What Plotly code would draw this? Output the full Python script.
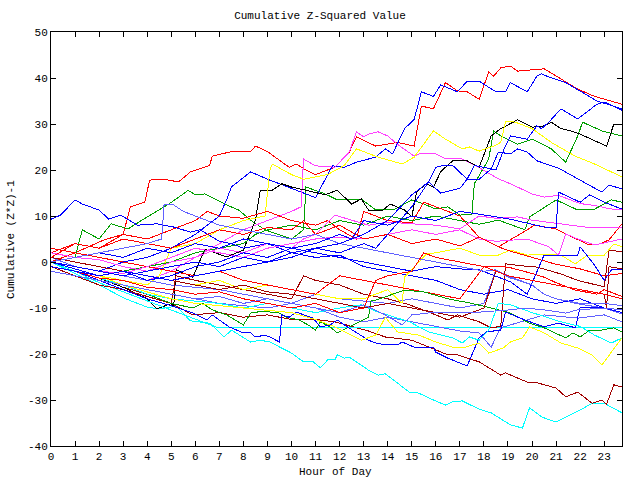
import plotly.graph_objects as go

# ---------------- data (hour, cumulative value) ----------------
red_top_h = [0,1,2.2,3,3.3,3.9,4.1,4.7,5.3,5.8,6.6,6.7,7.5,8.3,8.5,9,9.9,10.2,10.6,11,11.8,12.4,12.7,13.5,14.4,15.1,15.4,15.9,16.4,16.9,17.3,17.8,18.2,18.4,18.7,19.1,19.4,20.5,21.2,21.9,22.6,23.74]
red_top_v = [0,2,4.8,6,12,13,17.8,18,17.4,19.6,21,23,24,24,25.2,24,20.6,21.3,20,19,20.6,23.9,27.2,25.2,26,25.2,33.9,33.3,39,37.2,37,35.4,41.3,40.4,42.2,42.6,41.5,42,39.8,37.6,36,34.3]

blue_top_h = [0,1,2,3,4,5,6,7,7.3,7.5,8.3,9,9.5,10,10.5,11,11.3,11.7,12.2,12.7,13.5,13.9,14.2,14.7,15.1,15.4,15.9,16.2,16.9,17.3,17.8,18.5,18.9,19.1,19.8,20.2,20.4,20.7,21.4,22.2,22.7,23.74]
blue_top_v = [0,-1,-2,0,1,3,6,10,13.5,16.3,19.6,18,17,16,15,14,17,20.9,20.6,21.7,22.8,24.6,23.5,29,31,37,36,38.5,37,39.3,39.3,37,37,39,37,40.4,40.9,40.2,39,36.5,35,33.3]

blue_ten_h = [0,0.4,1,1.3,2,2.4,2.9,3.6,4.4,5.1,5.8,6.2,7,7.5,8,9,10,11,12,13,14,15,16,17,18,19,20,21,22,23,23.74]
blue_ten_v = [9.3,10.2,13.5,12.6,11.3,9.3,10.2,8,8.3,7.6,6.5,7,4.5,4,3,4,2,1,1.5,-1,-2,-3,-4,-6,-7,-6,-8,-9,-8,-10,-11]

green_a_h = [0,1,1.3,2,2.5,3.2,4,4.5,4.9,5.5,5.7,6,6.4,7.3,7.8,8.4,8.9,10,10.5,10.6,11.4,11.9,12.9,13.5,14.3,15,15.5,16,16.5,17,17.5,17.6,18.2,18.4,18.7,19.4,20,20.8,21.4,21.9,22.1,22.9,23.74]
green_a_v = [0,1,7,5,8.3,7.2,9.8,11.3,12.6,14.8,15.6,14.6,14.8,12.4,11.3,8.7,7,5,7,16.3,14.8,13.5,13.7,11.3,11.5,13.5,12.6,11.5,12,10.2,10.4,17,22.4,28.5,27.4,25.6,26.7,24.6,21.7,27.4,30.4,28.5,27.4]

black_a_h = [0,1,2,3,4,4.4,5,5.1,5.2,5.9,6.4,7.3,8,8.5,8.7,9.2,9.6,10,10.6,11.4,11.9,12.5,12.9,13.2,13.8,14.1,14.7,15,15.2,15.6,15.9,16.2,16.4,16.7,17.3,17.8,18.3,18.7,19.4,20,20.5,20.8,21.2,21.6,22,23.1,23.4,23.74]
black_a_v = [0,-2,-3.5,-5.5,-8,-10.2,-9,-9.8,-1.7,-3.3,2.8,1.1,2.6,9.1,15.6,15.6,17,16.3,15.6,14.6,15.6,12.6,13.7,11.3,11.3,12.6,11.3,9.8,15.2,17,16.3,19.6,20.6,22,22,20.6,27.4,29,30.9,29.3,29.6,30.4,29,28.5,27.8,25.2,30,30]

yellow_a_h = [0,1,2,3,4,4.5,5,6,7,8,8.9,9.1,9.2,10,10.5,11.5,12.2,12.7,13.6,14.6,15.1,15.9,16.4,17.1,17.4,17.8,18.4,18.7,18.9,19.3,20,20.8,21.8,22.6,23.74]
yellow_a_v = [0,-1.5,-3,-4,-5,-3,3,4,7,9,10,20,21.3,19,18,19,21,24.6,22.8,21.3,22.8,28.5,26.7,24.6,25,24.1,25.2,26,30.6,30.4,29,26,23,21.3,18.5]

magenta_a_h = [0,1,2,3,4,5,6,7,8,9,10,10.4,10.5,11,11.8,12.4,12.7,13,13.2,13.6,14,14.4,15.1,15.3,16,16.4,17.1,17.8,18.6,19.1,20,20.5,21.1,22,22.6,23.2,23.74]
magenta_a_v = [0,-1,-2,-3,-4,-2,1,4,7,9,11,12,22.4,20.9,20.6,23.9,28.3,27.2,27.8,28.3,27.4,25.6,23,23.5,23.5,22.4,22.4,20.5,18.1,17,14.8,14.1,14.5,12.7,12.3,11.6,11.3]

cyan_low_h = [0,1,2,3.1,4,4.5,5.2,5.8,6.2,6.6,7.2,7.5,8.3,8.7,9.1,10,10.5,10.9,11.2,11.5,11.8,11.9,12.2,12.4,13.2,13.6,13.9,14.9,15.2,15.6,15.9,16.4,16.7,17.1,17.8,18.3,19.1,19.6,19.9,20.4,21,21.4,22,22.5,23,23.74]
cyan_low_v = [0,-2.5,-5,-8,-9.8,-10.2,-9.6,-12.8,-13,-13.3,-16.3,-14.8,-17.4,-17,-17.4,-19.8,-21.7,-21.7,-23,-21.3,-21.3,-20.2,-20.9,-20.7,-23.5,-24.6,-24.3,-28.3,-28.3,-29.3,-30,-31.1,-30.4,-30.2,-32,-32.8,-35.4,-36.1,-31.7,-33.7,-34.8,-33.7,-32.2,-30.7,-30.7,-32.8]

cyan_flat_h = [0,1,2,3,4,5,6,6.9,23.74]
cyan_flat_v = [0,-2,-4.5,-6.5,-8.5,-10.5,-12.5,-14.2,-14.2]

cyan_c_h = [0,1,2,3,4,5,6,7,8,9,10,11,12,12.9,13.5,14.9,15.7,16.7,17.1,17.4,17.8,18.2,18.6,19.1,20,21.2,22,22.6,23.3,23.74]
cyan_c_v = [0,-2,-3.5,-5,-7,-8,-8.5,-9,-10,-9,-10,-11,-10,-9.3,-10.7,-13,-15.2,-16.5,-17.6,-16.3,-17,-14.8,-9,-9.3,-11,-13,-14,-15.9,-17.6,-16.5]

darkred_low_h = [0,1,2,3,4,5,5.9,7,8,9,10,11,11.8,12.5,13.2,13.9,15,16,16.5,16.9,17.8,18.7,18.9,19.3,19.8,20.1,20.5,21,21.4,21.9,22.5,22.9,23.1,23.4,23.74]
darkred_low_v = [0,-2,-3.5,-5.5,-7,-9,-11.5,-11,-12,-11.5,-12.5,-12.5,-13,-14,-15,-16.3,-17,-19.1,-20.2,-20.2,-21.7,-24.6,-24.1,-25,-26.1,-26.1,-26.7,-27.4,-29.3,-28.3,-30.7,-30,-30.9,-26.7,-27.2]

darkred_b_h = [0,1,2,3,4,5,5.2,6,7,8,9,10,10.5,11,12,13,14,14.9,16,16.5,16.9,17.8,18.3,18.7,18.9,19.5,20.2,21.2,21.9,23,23.2,23.74]
darkred_b_v = [-1,-3,-5,-6,-7.5,-9,-3,-4,-5,-6,-7,-8,-3,-4,-5,-7,-8,-9.3,-11.5,-12.6,-11.5,-13,-14.3,-14,-0.4,-0.8,-1.1,-2.6,-4,-5.4,2.6,2.2]

darkred_c_h = [0,1,2,3,4,5,6,7,8,9,10,11,12,13,14,15,16,17,18,18.5,19,20,21,22,23,23.1,23.2,23.74]
darkred_c_v = [1,0,-1,-2,-3,-4,-5,-6,-5,-6.5,-7,-8,-9,-10,-9,-10,-11,-12,-10,-2,-3,-4,-5,-6,-7,-10,-1,-1.5]

blue_low_h = [0,1,2,3,4,5,5.3,5.9,6.5,6.7,7.4,8,8.3,8.5,8.9,9.1,9.5,9.6,9.9,10.2,10.9,11.2,11.6,11.9,12.2,12.9,13.2,13.6,14.4,14.6,15.1,15.9,16,16.5,17.3,17.8,18.1,18.7,18.9,19.7,20.5,21.1,21.8,22,22.6,23.74]
blue_low_v = [0,-2,-4,-6,-8,-9.5,-10,-11.1,-12.6,-11.5,-14.1,-15.4,-15.4,-16.3,-15.9,-16.3,-17.4,-11.5,-12,-10.9,-12.2,-14.1,-13.7,-12.6,-13.7,-15.9,-17,-17.8,-18,-17.4,-18.5,-18.5,-19.6,-20.9,-22.6,-16.5,-15.2,-14.8,-10.9,-12.6,-14.1,-13.3,-14.3,-9.8,-9.8,-10.4]

yellow_low_h = [0,1,2,3,4,5,6,7,8,9,10,11,11.8,12.9,13.5,13.9,14.4,15.3,16,16.7,17.1,17.8,18.2,18.8,19.1,19.6,19.9,20.5,21.2,21.9,22.5,22.9,23.3,23.74]
yellow_low_v = [0,-1.5,-3,-5,-6.5,-8,-9,-9.5,-10,-10.5,-11,-12.5,-14.1,-17,-15.9,-12,-15.2,-15.9,-17.4,-18.5,-18.7,-17.6,-19.8,-18.7,-17.4,-16.5,-14.1,-15.4,-17.6,-18.7,-20.2,-22.4,-19.6,-16.5]

green_low_h = [0,1,2,3,4,5,5.9,6.3,6.7,7.3,8,8.3,8.8,9.5,9.8,10.3,10.7,11,11.2,11.6,11.9,12.3,12.7,13.2,13.3,13.5,14.7,15.5,16.5,17.5,18.6,19.1,19.5,19.9,20.5,21.4,21.7,22,22.4,22.9,23.4,23.74]
green_low_v = [0,-1.5,-3,-5,-7,-9,-10,-9,-10.4,-11.5,-13.7,-11.1,-10.7,-11.1,-12,-12.6,-13.7,-14.8,-13,-14.1,-15.4,-14.3,-13.3,-12,-8.5,-8.3,-6.1,-6.5,-8,-9,-10.4,-11.1,-12.2,-13.3,-14.3,-16.5,-15.4,-16.3,-14.8,-14.8,-14.3,-15.2]

red_b_h = [0,1,2,3,4,5,6,6.5,7,8,9,10,11,11.5,12,12.7,13,14,15,15.5,16,17,17.8,18.6,19.8,20.1,21,21.4,22.3,22.7,23.2,23.74]
red_b_v = [2,4,3,6,5,7,9,11,10,9.5,11,9,8,9,7,5,11,9,8.5,13,12,10,5.4,3.3,7,8,7.2,6.1,3.9,3.7,4.8,8.3]

red_c_h = [0,1,2,3,4,5,6,7,8,9,10,11,12,13,14,15,16,17,18,19,20,20.5,21,21.8,22.7,23,23.74]
red_c_v = [3,2,1,0,-1,-2,-3,-2,-4,-5,-6,-7,-3,-4,-5,-6,-7,-8,-1,-1.1,-2.5,-3.3,-4.5,-6.1,-7,-6,-7.5]

red_d_h = [0,1,2,3,4,5,6,7,8,9,10,10.5,11,12,13,14,15,16,17,17.8,18.6,19,20,21,22,23,23.74]
red_d_v = [1,4,3,5,4,3,5,7,6,7.5,7,9,6,8,5,6,4,5,3.5,5.4,3.3,2.5,1,-0.5,-1.5,-3,-2.5]

red_e_h = [0,1,2,3,4,5,6,7,8,9,10,11,12,13,13.5,14,15,15.5,16,17,18,19,20,21,22,23,23.74]
red_e_v = [-1,-2,-3.5,-4,-5.5,-6,-7,-6.5,-8,-9,-10,-9,-11,-10,-4,-3,-2,2,1,0,-1,-3,-4,-5,-6,-7,-8]

green_b_h = [0,1,2,3,4,5,6,7,8,8.5,9,10,11,12,13,14,15,16,17,17.8,18.6,19.7,19.9,21,21.9,22.6,23.3,23.74]
green_b_v = [1,0,-1,-2,-1,0,2,3,4,6,7,8,7,9,8,10,9,10,9,8.2,9.1,7,9.8,13.5,11.3,11.5,13.5,13]

magenta_b_h = [0,1,2,3,4,5,6,7,8,9,10,10.5,11,11.8,13.2,14,15,16,17,17.8,18.5,19.4,20,21.1,22.2,23.74]
magenta_b_v = [2,1,0.5,-1,-2,0,1,3,2,4,3,5,6,10.2,8,8.7,8.3,8,7.2,10,9.5,9.8,9.1,8.3,7.6,7.6]

magenta_c_h = [0,1,2,3,4,5,6,7,8,9,10,11,11.8,13,14,15,16,17,17.8,18.5,19.8,20.7,21.1,21.4,21.9,22.6,23.74]
magenta_c_v = [0,-1,-2,-2.5,-1,1,3,2,1,3,4,5,5.4,5,6,7,6,7,5,4.5,5,3.3,1.5,6.1,5,3.7,5]

yellow_b_h = [0,1,2,3,4,5,6,7,8,9,10,11,12,13,14,14.6,14.7,15.6,16,17,17.8,18.6,19.1,19.8,20.5,21.2,21.8,22.3,23,23.4,23.74]
yellow_b_v = [1,0,-1,-2,-3,-4,-5,-4,-6,-5,-6,-7,-8,-8,-6,-9,-3.3,1.7,2,3,1.5,1.5,2.6,1.5,1.7,1.5,-0.4,1.5,1.5,3.9,3.3]

blue_c_h = [0,1,2,3,4,5,6,7,8,9,10,11,12,13,14,15,16,17,17.8,19.1,19.8,20.5,21.9,22,22.6,23,23.3,23.74]
blue_c_v = [0,1,2,1,3,2,4,3,5,4,3,2,1,0,-1,-2,-1,-1.5,-1.7,-4.3,-7,1.5,1.5,3.3,-0.7,-4,-1.7,-1.7]

blue_d_h = [0,1,2,3,4,5,6,7,8,9,10,11,12,12.5,13,14,15,16,17,17.8,19.1,20.5,21,21.1,22,22.4,23,23.74]
blue_d_v = [-1,-2,-3,-2,-4,-3,-1,0,2,1,3,4,6,5,9,8,10,9,11,10.4,9.3,7.6,7.5,15.2,13,14.6,13,11.5]

blue_e_h = [0,1,2,3,4,5,6,7,8,9,10,11,12,13,13.5,14,15,15.7,16,16.3,16.7,17.3,17.6,18.5,18.8,19.1,19.8,20.2,20.4,20.7,21.2,21.9,22.7,23,23.74]
blue_e_v = [0,-1,-2,-3,-2,-1,0,-1,1,0,2,3,2,4,3,6,12,17.4,20.6,21,21,18,21,20,24.1,27.4,26.7,29.6,29,30.4,33.3,31.1,34.3,34.8,33]

blue_f_h = [0,1,2,3,4,5,6,7,8,9,10,11,12,13,14,15,15.7,16.2,17,17.3,17.8,18.3,18.6,19.1,19.4,19.8,20.2,21.1,22,22.9,23.2,23.74]
blue_f_v = [0,-1.5,-3,-2,-3,-4,-3,-2,-1,0,1,3,4,6,9,14.6,17.4,15,16,18,18,20.2,23.9,23.5,24.6,23.9,22,20.4,17.8,15.2,16.7,15.9]

lblue_a_h = [0,1,2,3,4,5,6,7,8,9,10,11,12,13,14,15,16,17,18,18.5,19,20,20.5,21,21.9,23,23.74]
lblue_a_v = [1,-1,-2,-3,-4,-5,-5.5,-6,-7,-8,-9,-7,-8,-8.5,-9,-8,-9,-10,-9,-1.7,-3,-5,-7,-8,-9.1,-10,-11.3]

lblue_c_h = [0,1,2,3,4,5,6,7,8,9,10,11,12,13,14,15,16,17,17.8,18.3,18.7,19.5,20.5,21.5,21.9,23,23.74]
lblue_c_v = [-1,-2,-4,-5,-6,-7,-8,-9,-9.5,-10,-9,-10,-12,-13,-12,-13,-14,-15,-15.4,-18.5,-14.3,-13,-11.5,-12,-12.2,-11.5,-13]

lblue_d_h = [0,1,2,3,4,5,6,7,8,9,10,11,12,13,13.9,14.6,15,16,17,17.8,19.1,19.7,20.5,21.4,21.9,23,23.74]
lblue_d_v = [-2,-3,-4,-5,-6,-7,-8,-7.5,-9,-8,-9,-10,-11,-9.3,-11.5,-13.7,-11.5,-10.9,-11,-10.9,-10.4,-10,-10.4,-11.1,-10.4,-10,-10.4]

lblue_e_h = [0,1,2,3,4,4.6,4.7,5.1,5.5,6,7,8,9,10,11,12,13,14,15,16,17,18,18.5,19,20,20.5,21,22,23,23.74]
lblue_e_v = [0,1,2,3,4,5,12.4,12.4,11,10,8,7,6,5,6,4,3,2,1,0,-1,-2,-1.7,-3.3,-5,-7,-8,-9,-9,-9.5]

series = [
    (red_top_h, red_top_v, "#ff0000"),
    (green_a_h, green_a_v, "#00a000"),
    (blue_top_h, blue_top_v, "#0000ff"),
    (magenta_a_h, magenta_a_v, "#ff40ff"),
    (cyan_low_h, cyan_low_v, "#00ffff"),
    (darkred_low_h, darkred_low_v, "#a00000"),
    (black_a_h, black_a_v, "#000000"),
    (yellow_a_h, yellow_a_v, "#ffff00"),
    (lblue_a_h, lblue_a_v, "#6060ff"),
    (red_b_h, red_b_v, "#ff0000"),
    (green_b_h, green_b_v, "#00a000"),
    (blue_ten_h, blue_ten_v, "#0000ff"),
    (magenta_b_h, magenta_b_v, "#ff40ff"),
    (cyan_flat_h, cyan_flat_v, "#00ffff"),
    (darkred_b_h, darkred_b_v, "#a00000"),
    (yellow_b_h, yellow_b_v, "#ffff00"),
    (lblue_c_h, lblue_c_v, "#6060ff"),
    (red_c_h, red_c_v, "#ff0000"),
    (green_low_h, green_low_v, "#00a000"),
    (blue_low_h, blue_low_v, "#0000ff"),
    (magenta_c_h, magenta_c_v, "#ff40ff"),
    (cyan_c_h, cyan_c_v, "#00ffff"),
    (darkred_c_h, darkred_c_v, "#a00000"),
    (yellow_low_h, yellow_low_v, "#ffff00"),
    (lblue_d_h, lblue_d_v, "#6060ff"),
    (red_d_h, red_d_v, "#ff0000"),
    (blue_c_h, blue_c_v, "#0000ff"),
    (lblue_e_h, lblue_e_v, "#6060ff"),
    (red_e_h, red_e_v, "#ff0000"),
    (blue_d_h, blue_d_v, "#0000ff"),
    (blue_e_h, blue_e_v, "#0000ff"),
    (blue_f_h, blue_f_v, "#0000ff"),
]

x_ticks = list(range(0, 24))
y_ticks = list(range(-40, 51, 10))

FONT = "Liberation Mono, DejaVu Sans Mono, monospace"

fig = go.Figure()
for h, v, c in series:
    fig.add_trace(go.Scatter(x=h, y=v, mode="lines",
                             line=dict(color=c, width=1), hoverinfo="skip"))

axis_common = dict(showgrid=False, zeroline=False, showline=True, linecolor="black",
                   linewidth=1, mirror="allticks", ticks="inside", ticklen=5,
                   tickcolor="black", tickwidth=1,
                   tickfont=dict(family=FONT, size=11, color="black"))

fig.update_layout(
    width=640, height=480,
    margin=dict(l=51, r=18, t=32, b=34),
    paper_bgcolor="white", plot_bgcolor="white",
    showlegend=False,
    title=dict(text="Cumulative Z-Squared Value", x=0.5, xanchor="center",
               y=1 - 15 / 480, yanchor="middle", yref="container",
               font=dict(family=FONT, size=11, color="black")),
    xaxis=dict(range=[0, 23.74], tickvals=x_ticks, ticktext=[str(t) for t in x_ticks],
               **axis_common),
    yaxis=dict(range=[-40, 50], tickvals=y_ticks, ticktext=[str(t) for t in y_ticks],
               **axis_common),
    annotations=[
        dict(text="Hour of Day", xref="paper", yref="paper", x=(335 - 51) / 571,
             y=(446 - 472) / 414, xanchor="center", yanchor="middle", showarrow=False,
             font=dict(family=FONT, size=11, color="black")),
        dict(text="Cumulative (Z*Z)-1", xref="paper", yref="paper", x=(11 - 51) / 571,
             y=(446 - 240) / 414, xanchor="center", yanchor="middle", showarrow=False,
             textangle=-90, font=dict(family=FONT, size=11, color="black")),
    ],
)

crisp_js = ("var s=document.createElement('style');"
            "s.innerHTML='.scatterlayer path{shape-rendering:crispEdges;}';"
            "document.head.appendChild(s);")
fig.write_html("out.html", post_script=crisp_js)
